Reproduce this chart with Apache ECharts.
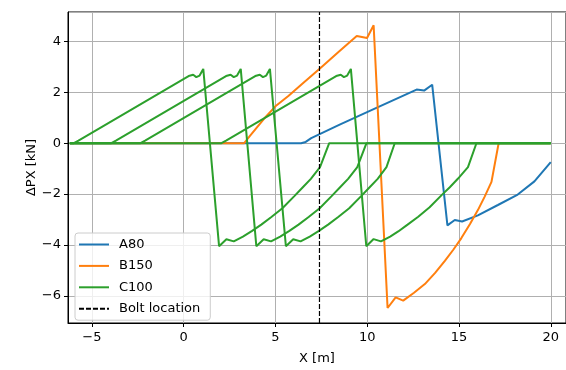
<!DOCTYPE html>
<html>
<head>
<meta charset="utf-8">
<script src="https://cdn.jsdelivr.net/npm/echarts@6/dist/echarts.min.js"></script>
<style>
  html, body { margin: 0; padding: 0; background: #ffffff; }
  #chart { width: 566px; height: 370px; }
</style>
</head>
<body>
<div id="chart"></div>
<script>
// Force difference along the track for three wagon types, plus the bolt position.
const xTickValues = [-5, 0, 5, 10, 15, 20];
const yTickValues = [-6, -4, -2, 0, 2, 4];
const boltX = 7.4;

const seriesA80 = [
  [-6.2, 0], [6.4, 0], [6.65, 0.05], [6.95, 0.2], [8.5, 0.73], [10.5, 1.39],
  [12.69, 2.11], [13.1, 2.07], [13.54, 2.3], [14.37, -3.23], [14.77, -3.02],
  [15.17, -3.08], [16.03, -2.84], [17.12, -2.43], [18.2, -2.02], [19.11, -1.5], [20, -0.74]
];

const seriesB150 = [
  [-6.2, 0], [3.3, 0], [3.6, 0.28], [4.4, 0.98], [5.0, 1.45], [5.72, 1.87], [6.45, 2.33],
  [7.44, 2.95], [8.45, 3.6], [9.43, 4.22], [9.99, 4.14], [10.35, 4.64], [11.11, -6.48],
  [11.55, -6.06], [11.96, -6.19], [12.55, -5.88], [13.14, -5.54], [13.7, -5.1], [14.23, -4.63],
  [14.7, -4.18], [15.13, -3.73], [15.6, -3.18], [16.03, -2.63], [16.4, -2.1], [16.77, -1.52],
  [17.16, 0], [20, 0]
];

// C100 passes over the section four times.
const seriesC100a = [
  [-6.2, 0], [-5.98, 0], [-5.73, 0.1], [0.27, 2.64], [0.52, 2.69], [0.69, 2.6], [0.87, 2.66],
  [1.07, 2.92], [1.93, -4.05], [2.33, -3.78], [2.73, -3.86], [3.23, -3.67], [3.73, -3.45],
  [4.23, -3.2], [4.78, -2.9], [5.38, -2.56], [6.03, -2.08], [6.48, -1.74], [6.93, -1.4],
  [7.43, -0.94], [7.93, 0], [20, 0]
];
const seriesC100b = [
  [-6.2, 0], [-3.94, 0], [-3.69, 0.1], [2.31, 2.64], [2.56, 2.69], [2.73, 2.6], [2.91, 2.66],
  [3.11, 2.92], [3.96, -4.05], [4.36, -3.78], [4.76, -3.86], [5.26, -3.67], [5.76, -3.45],
  [6.26, -3.2], [6.81, -2.9], [7.41, -2.56], [8.06, -2.08], [8.51, -1.74], [8.96, -1.4],
  [9.46, -0.94], [9.96, 0], [20, 0]
];
const seriesC100c = [
  [-6.2, 0], [-2.35, 0], [-2.1, 0.1], [3.9, 2.64], [4.15, 2.69], [4.32, 2.6], [4.5, 2.66],
  [4.7, 2.92], [5.57, -4.05], [5.97, -3.78], [6.37, -3.86], [6.87, -3.67], [7.37, -3.45],
  [7.87, -3.2], [8.42, -2.9], [9.02, -2.56], [9.67, -2.08], [10.12, -1.74], [10.57, -1.4],
  [11.05, -0.94], [11.5, 0], [20, 0]
];
const seriesC100d = [
  [-6.2, 0], [2.06, 0], [2.31, 0.1], [8.31, 2.64], [8.56, 2.69], [8.73, 2.6], [8.91, 2.66],
  [9.11, 2.92], [9.95, -4.05], [10.35, -3.77], [10.75, -3.86], [11.25, -3.67], [11.69, -3.47],
  [12.2, -3.2], [12.78, -2.89], [13.4, -2.52], [14.04, -2.05], [14.5, -1.73], [14.95, -1.39],
  [15.49, -0.94], [15.95, 0], [20, 0]
];

const xRange = [-6.3, 20.83];
const yRange = [-7.07, 5.16];

const FONT = 'DejaVu Sans';
const fmt = v => (v < 0 ? '\u2212' + Math.abs(v) : String(v));

function lineSeries(name, data, color) {
  return {
    name: name,
    type: 'line',
    data: data,
    symbol: 'none',
    showSymbol: false,
    lineStyle: { color: color, width: 2 },
    itemStyle: { color: color },
    emphasis: { disabled: true },
    clip: true
  };
}

const chart = echarts.init(document.getElementById('chart'), null, { renderer: 'canvas' });

chart.setOption({
  animation: false,
  backgroundColor: '#ffffff',
  grid: {
    left: 68, right: -2, top: 12, bottom: 44,
    show: true, borderColor: '#000000', borderWidth: 1, backgroundColor: '#ffffff'
  },
  xAxis: {
    type: 'value',
    min: xRange[0], max: xRange[1],
    minInterval: 5, maxInterval: 5,
    name: 'X [m]',
    nameLocation: 'middle',
    nameGap: 29,
    nameMoveOverlap: false,
    nameTextStyle: { fontFamily: FONT, fontSize: 13, color: '#000' },
    axisLine: { show: true, onZero: false, lineStyle: { color: '#000', width: 1 } },
    axisTick: { show: true, inside: false, length: 4, lineStyle: { color: '#000' } },
    axisLabel: {
      fontFamily: FONT, fontSize: 13, color: '#000', margin: 8,
      showMinLabel: false, showMaxLabel: false,
      formatter: v => (xTickValues.includes(v) ? fmt(v) : '')
    },
    splitLine: { show: true, lineStyle: { color: '#b0b0b0', width: 1 } }
  },
  yAxis: {
    type: 'value',
    min: yRange[0], max: yRange[1],
    minInterval: 2, maxInterval: 2,
    name: '\u0394PX [kN]',
    nameLocation: 'middle',
    nameGap: 30,
    nameMoveOverlap: false,
    nameRotate: 90,
    nameTextStyle: { fontFamily: FONT, fontSize: 13, color: '#000' },
    axisLine: { show: true, onZero: false, lineStyle: { color: '#000', width: 1 } },
    axisTick: { show: true, inside: false, length: 4, lineStyle: { color: '#000' } },
    axisLabel: {
      fontFamily: FONT, fontSize: 13, color: '#000', margin: 7,
      showMinLabel: false, showMaxLabel: false,
      formatter: v => (yTickValues.includes(v) ? fmt(v) : '')
    },
    splitLine: { show: true, lineStyle: { color: '#b0b0b0', width: 1 } }
  },
  legend: {
    orient: 'vertical',
    left: 75, top: 233,
    data: ['A80', 'B150', 'C100', 'Bolt location'],
    itemWidth: 30, itemHeight: 12, itemGap: 8.4,
    padding: [5, 10, 5, 3],
    backgroundColor: 'rgba(255,255,255,0.8)',
    borderColor: '#cccccc', borderWidth: 1, borderRadius: 3,
    itemStyle: { opacity: 0 },
    textStyle: { fontFamily: FONT, fontSize: 13, color: '#000', lineHeight: 12, padding: [0, 0, 0, 5] }
  },
  series: [
    lineSeries('A80', seriesA80, '#1f77b4'),
    lineSeries('B150', seriesB150, '#ff7f0e'),
    lineSeries('C100', seriesC100a, '#2ca02c'),
    lineSeries('C100', seriesC100b, '#2ca02c'),
    lineSeries('C100', seriesC100c, '#2ca02c'),
    lineSeries('C100', seriesC100d, '#2ca02c'),
    {
      name: 'Bolt location',
      type: 'line',
      data: [[boltX, yRange[0]], [boltX, yRange[1]]],
      symbol: 'none',
      showSymbol: false,
      lineStyle: { color: '#000000', width: 1.2, type: [5, 2] },
      itemStyle: { color: '#000000' },
      emphasis: { disabled: true }
    }
  ]
});
</script>
</body>
</html>
